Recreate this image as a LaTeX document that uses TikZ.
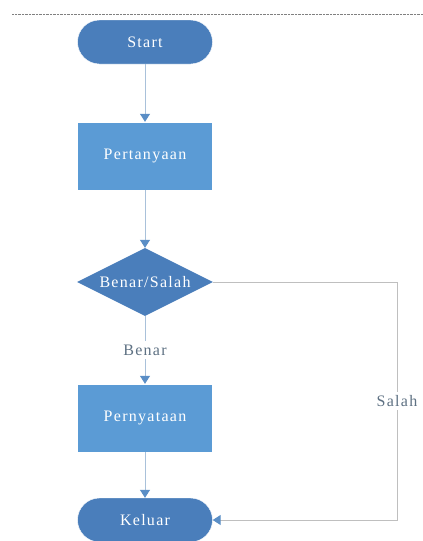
\documentclass[tikz,border=0pt]{standalone}
\usepackage{fontspec}
\setmainfont{Liberation Serif}[LetterSpace=8]
\usetikzlibrary{shapes.geometric,arrows.meta}
\definecolor{darkblue}{HTML}{4A7EBB}
\definecolor{lightblue}{HTML}{5B9BD5}
\definecolor{linkblue}{HTML}{A9C1DA}
\definecolor{tipblue}{HTML}{5A8EC6}
\definecolor{labelgray}{HTML}{5E7183}
\tikzset{
  terminal/.style={draw=white, fill=darkblue, rounded corners=22pt, minimum width=135pt, minimum height=44pt, text=white},
  process/.style={draw=white, fill=lightblue, minimum width=135pt, minimum height=68pt, text=white},
  decision/.style={diamond, aspect=2, fill=darkblue, minimum width=136pt, minimum height=68pt, inner sep=0pt, text=white},
  link/.style={draw=linkblue, line width=1pt, -{Triangle[length=8pt,width=10pt,fill=tipblue,color=tipblue]}},
  tag/.style={text=labelgray}
}
\begin{document}
\begin{tikzpicture}[x=1pt, y=-1pt, font=\fontsize{16}{18}\selectfont]
	\useasboundingbox (0,0) rectangle (423,541);
	\draw[densely dotted, gray] (12,14)--(423,14);
	\node[terminal] (start) at (145,42) {Start};
	\node[process] (tanya) at (145,156) {Pertanyaan};
	\node[decision] (cek) at (145,282) {Benar/Salah};
	\node[process] (nyata) at (145,418) {Pernyataan};
	\node[terminal] (keluar) at (145,520) {Keluar};
	\coordinate (sudut1) at (397,282);
	\coordinate (sudut2) at (397,520);
	\draw[link] (start)--(tanya);
	\draw[link] (tanya)--(cek);
	\draw[link] (cek)--node[tag, fill=white] {Benar} (nyata);
	\draw[link] (nyata)--(keluar);
	\draw[link, draw=lightgray] (cek.east)--(sudut1)--node[tag, fill=white, pos=0.5] {Salah} (sudut2)--(keluar.east);
\end{tikzpicture}
\end{document}
